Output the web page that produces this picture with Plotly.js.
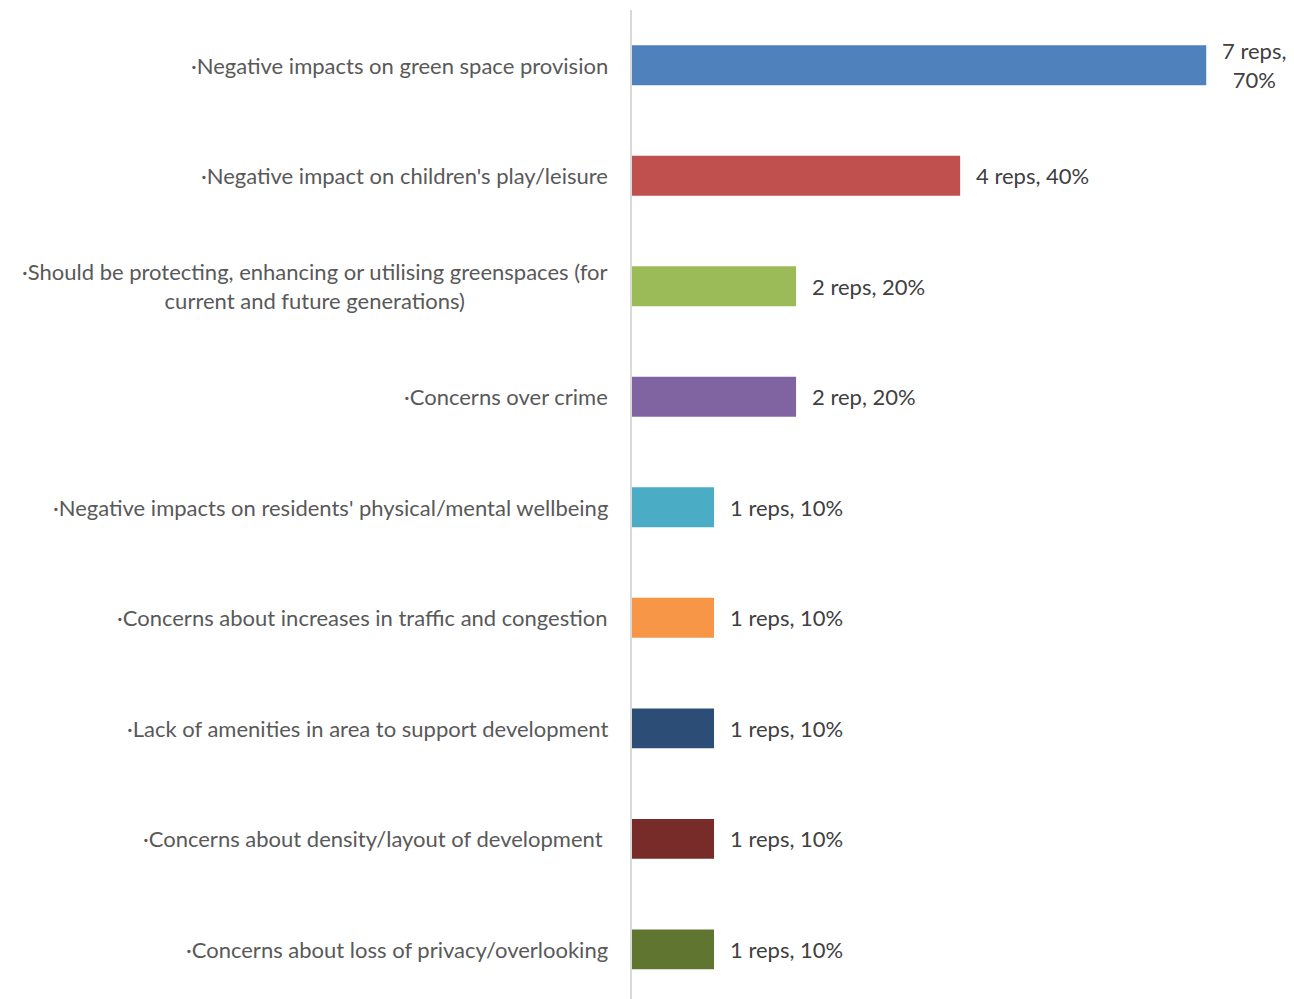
<!DOCTYPE html>
<html>
<head>
<meta charset="utf-8">
<script src="https://cdn.plot.ly/plotly-3.0.1.min.js"></script>
<style>
  html, body { margin: 0; padding: 0; background: #fff; }
  #chart { width: 1294px; height: 999px; }
</style>
</head>
<body>
<div id="chart"></div>
<script>
// categories, top to bottom
var categories = [
  '·Negative impacts on green space provision',
  "·Negative impact on children's play/leisure",
  '·Should be protecting, enhancing or utilising greenspaces (for<br>current and future generations)',
  '·Concerns over crime',
  "·Negative impacts on residents' physical/mental wellbeing",
  '·Concerns about increases in traffic and congestion',
  '·Lack of amenities in area to support development',
  '·Concerns about density/layout of development\u00a0',
  '·Concerns about loss of privacy/overlooking'
];
var percents = [70, 40, 20, 20, 10, 10, 10, 10, 10];
var valueLabels = [
  '7 reps,<br>70%', '4 reps, 40%', '2 reps, 20%', '2 rep, 20%',
  '1 reps, 10%', '1 reps, 10%', '1 reps, 10%', '1 reps, 10%', '1 reps, 10%'
];
var barColors = ['#4F81BD', '#C0504D', '#9BBB59', '#8064A2', '#4BACC6',
                 '#F79646', '#2C4D75', '#772C2A', '#5F7530'];

var idx = categories.map(function (c, i) { return i; });

var trace = {
  type: 'bar',
  orientation: 'h',
  x: percents,
  y: idx,
  width: 0.36,
  marker: { color: barColors, line: { width: 0 } },
  hoverinfo: 'none'
};

var font = 'Lato, "Noto Sans", sans-serif';
var annotations = [];
categories.forEach(function (c, i) {
  annotations.push({
    xref: 'paper', yref: 'y', x: 0, y: i,
    xanchor: 'right', yanchor: 'middle', xshift: -22,
    text: c, showarrow: false, align: 'center',
    font: { family: font, size: 22, color: '#595959' }
  });
  annotations.push({
    xref: 'x', yref: 'y', x: percents[i], y: i,
    xanchor: 'left', yanchor: 'middle', xshift: 14,
    text: valueLabels[i], showarrow: false, align: 'center',
    font: { family: font, size: 22, color: '#404040' }
  });
});

var layout = {
  width: 1294,
  height: 999,
  margin: { l: 632, r: 0, t: 10, b: 0 },
  paper_bgcolor: '#ffffff',
  plot_bgcolor: '#ffffff',
  showlegend: false,
  xaxis: {
    range: [0, 80.7],
    showgrid: false, zeroline: false, showline: false,
    showticklabels: false, ticks: ''
  },
  yaxis: {
    range: [8.45, -0.5],
    showgrid: false, zeroline: false,
    showline: true, linecolor: '#d9d9d9', linewidth: 2,
    showticklabels: false, ticks: ''
  },
  annotations: annotations
};

Plotly.newPlot('chart', [trace], layout, { displayModeBar: false, staticPlot: true });
</script>
</body>
</html>
